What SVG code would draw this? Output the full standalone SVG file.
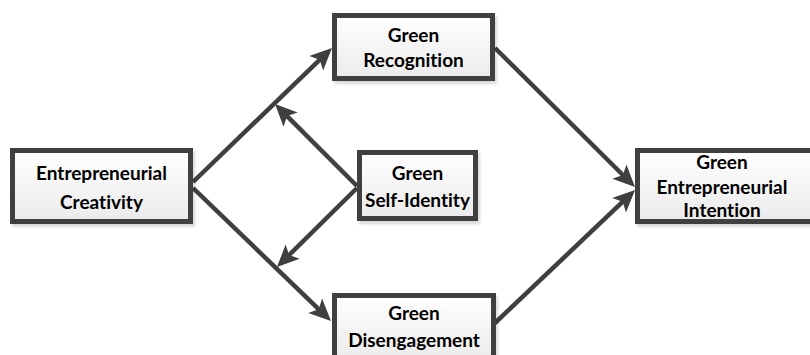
<svg xmlns="http://www.w3.org/2000/svg" width="810" height="355" viewBox="0 0 810 355">
<style>
.box{fill:url(#g);stroke:#3f3f3f;stroke-width:5;filter:url(#sh)}
.t{font-family:Lato,"Liberation Sans",sans-serif;font-weight:bold;font-size:19px;fill:#000;text-anchor:middle;font-variant-ligatures:none}
.c{stroke:#3f3f3f;stroke-width:4.5;fill:none;marker-end:url(#ah)}
</style>
<defs>
<linearGradient id="g" x1="0" y1="0" x2="0" y2="1">
<stop offset="0" stop-color="#ffffff"/>
<stop offset="1" stop-color="#ebebeb"/>
</linearGradient>
<filter id="sh" x="-10%" y="-10%" width="130%" height="140%">
<feDropShadow dx="2" dy="3" stdDeviation="1.5" flood-color="#000" flood-opacity="0.15"/>
</filter>
<marker id="ah" markerUnits="userSpaceOnUse" markerWidth="30" markerHeight="30" refX="0" refY="0" orient="auto" overflow="visible">
<path d="M10,0 L-12,-10 L-7,0 L-12,10 Z" fill="#3f3f3f"/>
</marker>
</defs>
<g id="connectors">
<line class="c" x1="193" y1="182" x2="324.8" y2="54.9"/>
<line class="c" x1="357" y1="186" x2="282.1" y2="111.1"/>
<line class="c" x1="193" y1="188" x2="323.8" y2="314.1"/>
<line class="c" x1="357" y1="188" x2="284.1" y2="260"/>
<line class="c" x1="495" y1="48" x2="627.9" y2="180"/>
<line class="c" x1="495" y1="323" x2="627.8" y2="196.9"/>
</g>
<g id="creativity">
<rect class="box" x="12.5" y="150.5" width="178" height="71"/>
<text class="t" x="101.5" y="180">Entrepreneurial</text>
<text class="t" x="101.5" y="209">Creativity</text>
</g>
<g id="recognition">
<rect class="box" x="334.5" y="15.5" width="158" height="63"/>
<text class="t" x="413.5" y="42">Green</text>
<text class="t" x="413.5" y="67">Recognition</text>
</g>
<g id="selfidentity">
<rect class="box" x="359.5" y="152.5" width="116" height="66"/>
<text class="t" x="417.5" y="180">Green</text>
<text class="t" x="417.5" y="207">Self-Identity</text>
</g>
<g id="disengagement">
<rect class="box" x="334.5" y="295.5" width="159" height="66"/>
<text class="t" x="414" y="320">Green</text>
<text class="t" x="414" y="347">Disengagement</text>
</g>
<g id="intention">
<rect class="box" x="637.5" y="150.5" width="180" height="71"/>
<text class="t" x="722" y="169">Green</text>
<text class="t" x="722" y="194">Entrepreneurial</text>
<text class="t" x="722" y="217">Intention</text>
</g>
</svg>
